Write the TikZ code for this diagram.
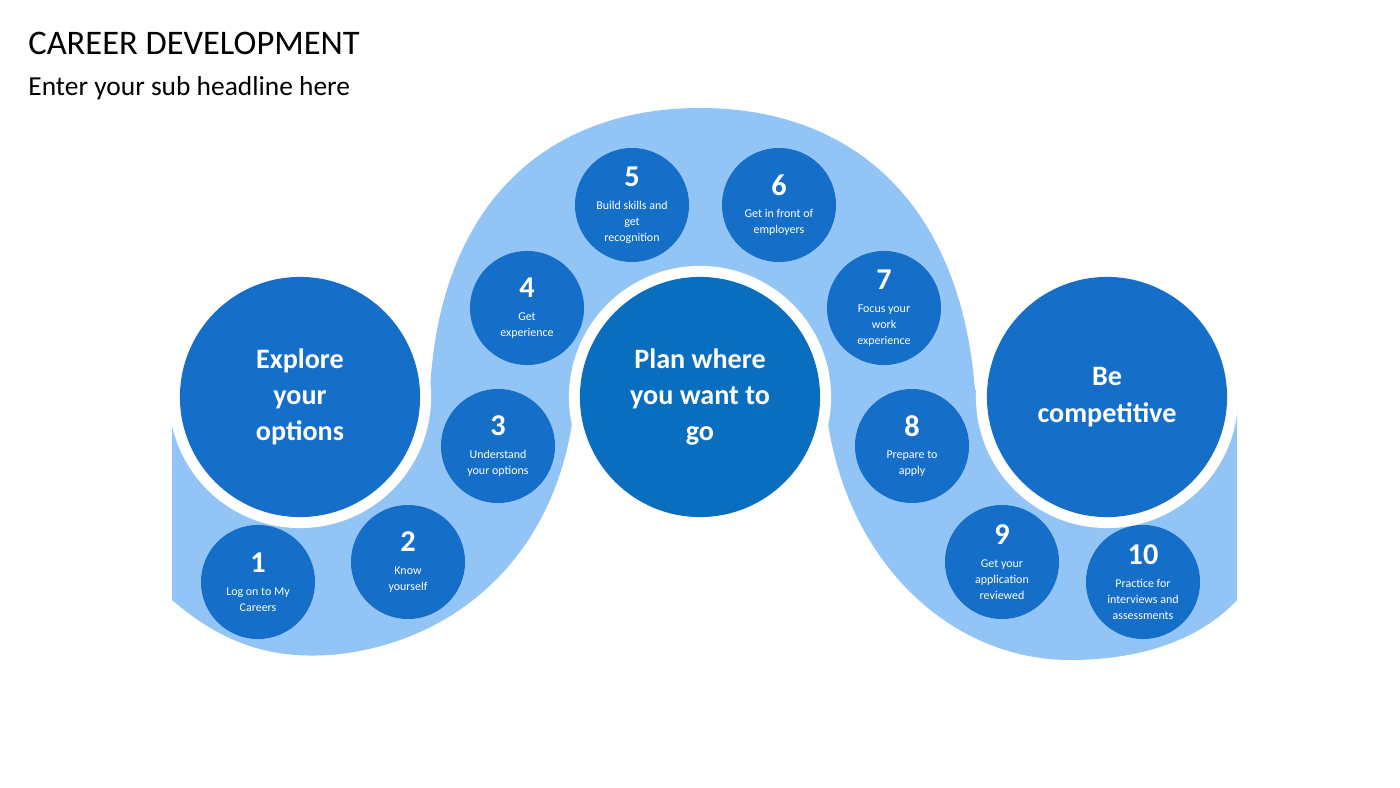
\documentclass[tikz,border=0pt]{standalone}
\usepackage{fontspec}
\setmainfont{Carlito}
\definecolor{stepblue}{RGB}{21,110,200}
\definecolor{planblue}{RGB}{10,110,190}
\definecolor{bandblue}{RGB}{146,197,245}
\tikzset{
  bigdisc/.style={circle, fill=stepblue, minimum size=2.4cm, inner sep=0pt, align=center, text=white,
    font=\fontsize{8}{10.3}\selectfont\bfseries},
  stepdisc/.style={circle, fill=stepblue, minimum size=1.14cm, inner sep=0pt, align=center, text=white,
    font=\fontsize{3.4}{4.5}\selectfont},
  ring/.style={circle, fill=white, minimum size=2.62cm, inner sep=0pt}
}
\newcommand{\stepnum}[1]{{\fontsize{8.6}{10}\selectfont\bfseries #1}\\[2pt]}
\begin{document}
\begin{tikzpicture}[x=0.01cm, y=-0.01cm]
\useasboundingbox (0,0) rectangle (1400,788);
% band
\fill[bandblue] (172,385) -- (172,600) .. controls (230,650) and (280,658) .. (330,655)
  .. controls (450,645) and (560,560) .. (575,400) -- (825,400)
  .. controls (840,560) and (950,660) .. (1070,660)
  .. controls (1140,660) and (1200,640) .. (1237,600) -- (1237,385) -- (975,390)
  .. controls (960,200) and (850,108) .. (700,108)
  .. controls (550,108) and (440,200) .. (430,390) -- cycle;
% white rings
\node[ring] (rexplore) at (300,397) {};
\node[ring] (rplan) at (700,397) {};
\node[ring] (rbe) at (1107,397) {};
% big circles
\node[bigdisc] (explore) at (300,397) {Explore\\your\\options};
\node[bigdisc, fill=planblue] (plan) at (700,397) {Plan where\\you want to\\go};
\node[bigdisc] (compete) at (1107,397) {Be\\competitive};
% steps
\node[stepdisc] (s1) at (258,582) {\stepnum{1}Log on to My\\Careers};
\node[stepdisc] (s2) at (408,562) {\stepnum{2}Know\\yourself};
\node[stepdisc] (s3) at (498,446) {\stepnum{3}Understand\\your options};
\node[stepdisc] (s4) at (527,308) {\stepnum{4}Get\\experience};
\node[stepdisc] (s5) at (632,205) {\stepnum{5}Build skills and\\get\\recognition};
\node[stepdisc] (s6) at (779,205) {\stepnum{6}Get in front of\\employers};
\node[stepdisc] (s7) at (884,308) {\stepnum{7}Focus your\\work\\experience};
\node[stepdisc] (s8) at (912,446) {\stepnum{8}Prepare to\\apply};
\node[stepdisc] (s9) at (1002,562) {\stepnum{9}Get your\\application\\reviewed};
\node[stepdisc] (s10) at (1143,582) {\stepnum{10}Practice for\\interviews and\\assessments};
% headings
\node[anchor=west, font=\fontsize{9.8}{11}\selectfont] (title) at (16,43) {CAREER DEVELOPMENT};
\node[anchor=west, font=\fontsize{7.8}{9}\selectfont] (sub) at (16,88) {Enter your sub headline here};
\end{tikzpicture}
\end{document}
